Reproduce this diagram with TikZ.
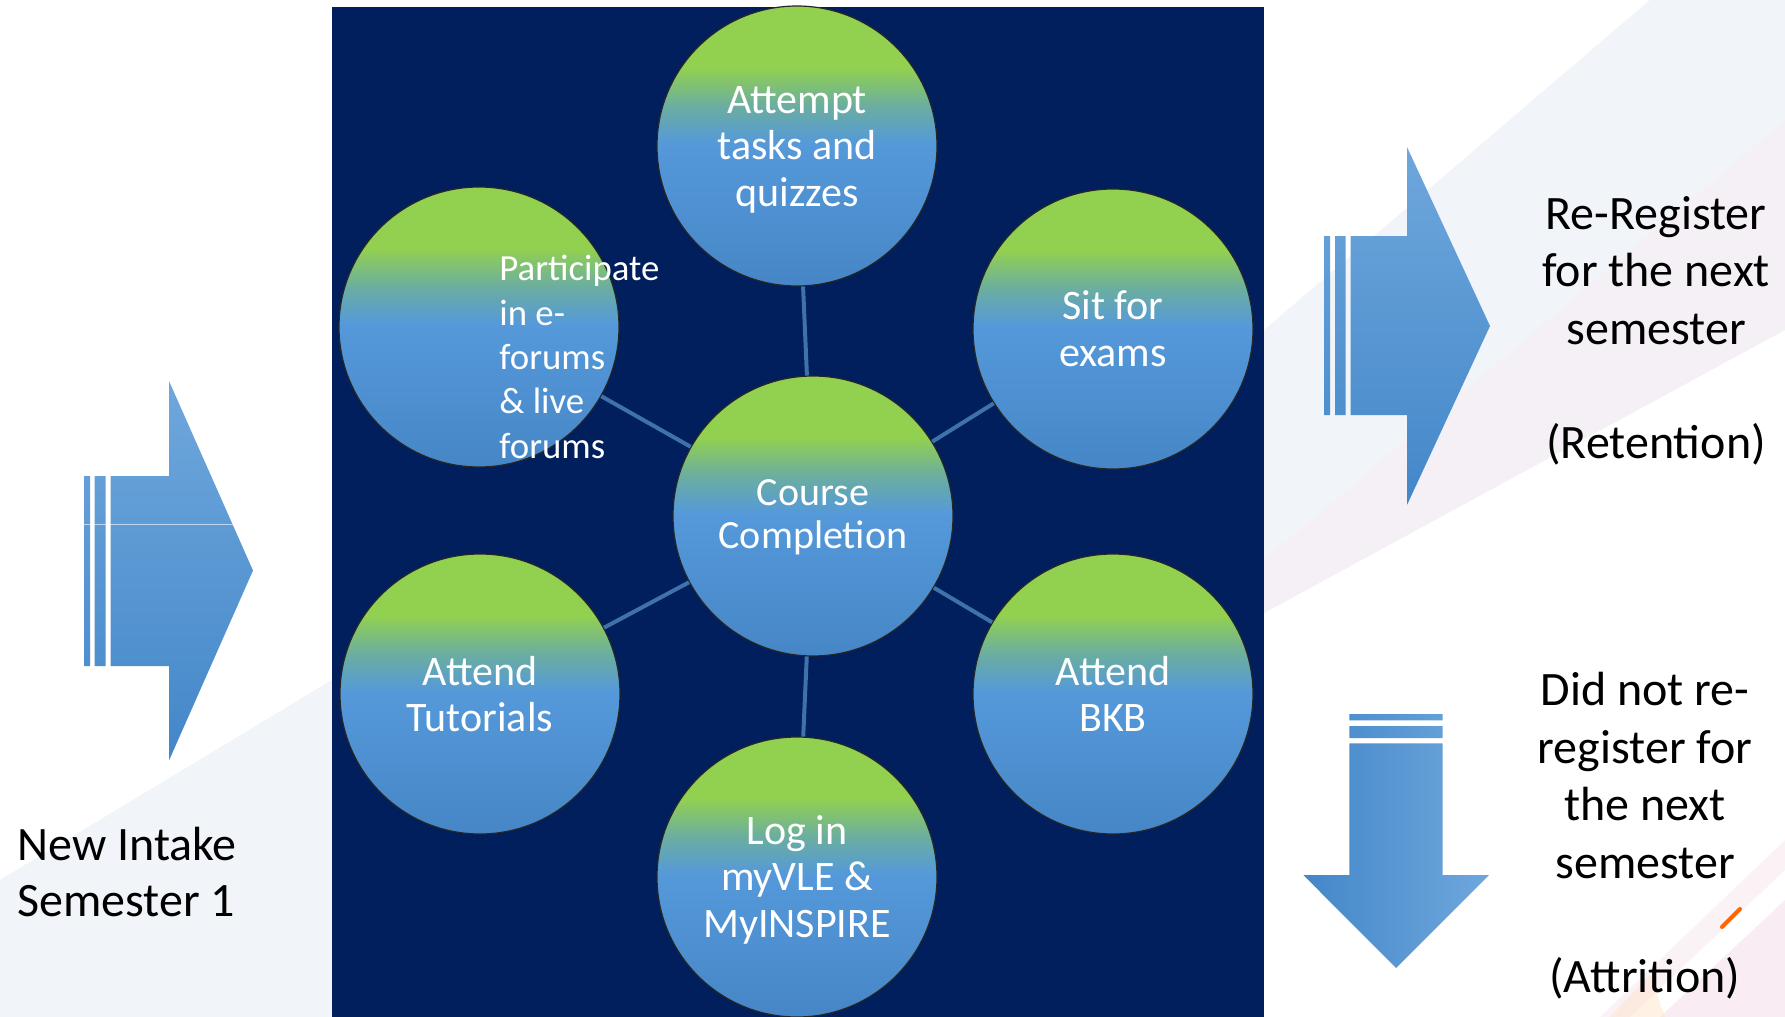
\documentclass[tikz,border=0pt]{standalone}
\usepackage{fontspec}
\setmainfont{Carlito}
\definecolor{navy}{HTML}{001F5C}
\definecolor{cgreen}{HTML}{92D050}
\definecolor{cteal}{HTML}{6AADA2}
\definecolor{cblue}{HTML}{5599DA}
\definecolor{cbot}{HTML}{4686C6}
\definecolor{arrlight}{HTML}{6FA7DC}
\definecolor{arrdark}{HTML}{4387C9}
\definecolor{connc}{HTML}{3F72AA}
\definecolor{bggray}{HTML}{F1F4F8}
\definecolor{bglav}{HTML}{F5F0F5}
\definecolor{bgpink}{HTML}{F4DCE8}
\pgfdeclareverticalshading{circshade}{100bp}{color(0bp)=(cbot); color(25bp)=(cbot); color(50.5bp)=(cblue); color(57bp)=(cteal); color(64bp)=(cgreen); color(100bp)=(cgreen)}
\tikzset{
  bubble/.style={circle, minimum size=140pt, inner sep=0pt, draw=black!85, line width=0.6pt,
    shading=circshade},
  btext/.style={text=white, align=center, inner sep=0pt, font=\fontsize{21}{23.3}\selectfont},
  conn/.style={draw=connc, line width=2pt},
  sidetext/.style={text=black, align=center, inner sep=0pt, font=\fontsize{24}{28.7}\selectfont},
}
\begin{document}
\begin{tikzpicture}[x=0.5pt, y=-0.5pt]
\useasboundingbox (0,0) rectangle (1785,1017);
% faint slide background
\fill[white] (0,0) rectangle (1785,1017);
\fill[bggray] (1264,330) -- (1650,0) -- (1785,0) -- (1785,120) -- (1264,560) -- cycle;
\fill[bglav] (1264,560) -- (1785,120) -- (1785,330) -- (1264,613) -- cycle;
\fill[bgpink, opacity=0.5] (1660,1017) -- (1785,900) -- (1785,1017) -- cycle;
\fill[bgpink, opacity=0.35] (1600,1017) -- (1785,840) -- (1785,870) -- (1630,1017) -- cycle;
\fill[orange!25, opacity=0.4] (1610,1017) -- (1650,975) -- (1665,1017) -- cycle;
\fill[bggray] (0,1017) -- (0,880) -- (332,680) -- (332,1017) -- cycle;
\draw[orange!80!red, line width=2pt, line cap=round] (1722,927) -- (1740,909);
% navy panel
\fill[navy] (332,7) rectangle (1264,1017);
% circles
\node[bubble] (cc) at (813,516) {};
\node[bubble] (top) at (797,146) {};
\node[bubble] (ul) at (479,327) {};
\node[bubble] (ur) at (1113,329) {};
\node[bubble] (ll) at (480,694) {};
\node[bubble] (lr) at (1113,694) {};
\node[bubble] (bot) at (797,877) {};
% connectors
\draw[conn] (cc) -- (top);
\draw[conn] (cc) -- (ul);
\draw[conn] (cc) -- (ur);
\draw[conn] (cc) -- (ll);
\draw[conn] (cc) -- (lr);
\draw[conn] (cc) -- (bot);
% circle texts
\node[btext, font=\fontsize{20}{21.6}\selectfont] (cctxt) at ([yshift=-0.8pt]cc.center) {Course\\Completion};
\node[btext] (toptxt) at ([yshift=-1.8pt]top.center) {Attempt\\tasks and\\quizzes};
\node[btext] (urtxt) at (ur.center) {Sit for\\exams};
\node[btext] (lltxt) at (ll.center) {Attend\\Tutorials};
\node[btext] (lrtxt) at (lr.center) {Attend\\BKB};
\node[btext] (bottxt) at ([yshift=-1.4pt]bot.center) {Log in\\myVLE \&\\MyINSPIRE};
\node[anchor=west, text=white, align=left, inner sep=0pt, font=\fontsize{18.4}{22.2}\selectfont] (ptxt) at (499,357) {Participate\\in e-\\forums\\\& live\\forums};
% left arrow
\path[top color=arrlight, bottom color=arrdark]
  (84,476) rectangle (90,666)
  (94.5,476) rectangle (105.5,666)
  (110.5,476) -- (169,476) -- (169,381) -- (253,570.5) -- (169,760.5) -- (169,666) -- (110.5,666) -- cycle;
\draw[white, opacity=0.6, line width=0.4pt] (84,524.5) -- (232.5,524.5);
% right arrow
\path[top color=arrlight, bottom color=arrdark]
  (1324.7,236) rectangle (1330,415)
  (1335,236) rectangle (1345.7,415)
  (1350.7,236) -- (1407,236) -- (1407,147) -- (1490,326) -- (1407,505) -- (1407,415) -- (1350.7,415) -- cycle;
% down arrow
\path[left color=arrdark, right color=arrlight]
  (1349.3,714) rectangle (1442.7,720.3)
  (1349.3,726) rectangle (1442.7,738)
  (1349.3,743.3) -- (1442.7,743.3) -- (1442.7,875) -- (1489,875) -- (1396,968) -- (1303.3,875) -- (1349.3,875) -- cycle;
% texts
\node[sidetext] (ret) at (1656,331) {Re-Register\\for the next\\semester\\\mbox{}\\(Retention)};
\node[sidetext] (att) at (1645,836) {Did not re-\\register for\\the next\\semester\\\mbox{}\\(Attrition)};
\node[sidetext, anchor=west, align=left, font=\fontsize{24}{27.9}\selectfont] (intake) at (17,872) {New Intake\\Semester 1};
\end{tikzpicture}
\end{document}
